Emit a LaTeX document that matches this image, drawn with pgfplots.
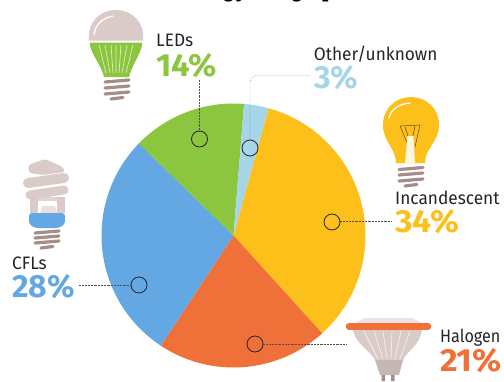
\documentclass[border=0pt]{standalone}
\usepackage{fontspec}
\usepackage{pgfplots}
\pgfplotsset{compat=1.18}
\setmainfont{Fira Sans}
\newfontfamily\titlefont{Liberation Sans}
\newfontfamily\namefont{Fira Sans}
\newfontfamily\pctfont{Fira Sans}
\definecolor{cInc}{HTML}{FDC01A}
\definecolor{cHal}{HTML}{F0703A}
\definecolor{cCfl}{HTML}{63A8E2}
\definecolor{cLed}{HTML}{8CC63F}
\definecolor{cOth}{HTML}{A6D5E8}
\definecolor{cInk}{HTML}{23232B}
\definecolor{cShell}{HTML}{DACBC8}
\definecolor{cScrew}{HTML}{A58E8A}
% One pie slice: colour, cumulative share at its start, its own share (in percent)
\newcommand{\slice}[3]{%
  \addplot[fill=#1,draw=none,domain={15.4+3.6*#2}:{15.4+3.6*(#2+#3)},samples=60]
    ({233.5+132*sin(x)},{235.5-132*cos(x)}) -- (axis cs:233.5,235.5) -- cycle;}
% Category name and percentage, set on their baselines
\newcommand{\nameat}[4][0.96]{\node[anchor=base west,inner sep=0pt,text=cInk] at (#2,#3)
  {\scalebox{#1}[1]{\fontsize{18}{18}\namefont #4}};}
\newcommand{\pctat}[5][1]{\node[anchor=base west,inner sep=0pt,text=#4] at (#2,#3)
  {\scalebox{#1}[1]{\fontsize{32}{32}\pctfont\bfseries #5}};}
% Screw thread of a lamp: three tilted bars and a short one below them
\newcommand{\screw}[5]{%
  \draw[cScrew,line width=3.2pt,line cap=round] (#1,#3+1) -- (#2,#3-1) (#1,#4+1) -- (#2,#4-1) (#1,#5+1) -- (#2,#5-1);
  \draw[cScrew,line width=3.2pt,line cap=round] ({#1+6},#5+6) -- ({#2-6},#5+4.5);}
\begin{document}
\begin{tikzpicture}
\useasboundingbox (0,0) rectangle (504pt,381pt);
\begin{axis}[
  at={(0,0)},anchor=south west,
  scale only axis,width=504pt,height=381pt,
  xmin=0,xmax=504,ymin=0,ymax=381,y dir=reverse,
  hide axis,clip=false]

% Slices, clockwise, starting with incandescent
\slice{cInc}{0}{34}
\slice{cHal}{34}{21}
\slice{cCfl}{55}{28}
\slice{cLed}{83}{14}
\slice{cOth}{97}{3}

% Leader lines
\addplot[cInk!80,line width=0.45pt,densely dotted] coordinates {(199.5,80) (199.5,131)};
\addplot[cInk!80,line width=0.45pt,densely dotted,rounded corners=7pt] coordinates {(250,140) (250,75.5) (310,75.5)};
\addplot[cInk!80,line width=0.45pt,densely dotted] coordinates {(340,221.5) (392,221.5)};
\addplot[cInk!80,line width=0.45pt,densely dotted] coordinates {(263,344) (346,344)};
\addplot[cInk!80,line width=0.45pt,densely dotted] coordinates {(79,285) (131,285)};
% Rings at the inner end of each leader
\addplot[only marks,mark=o,mark size=8pt,mark options={draw=cInk,line width=0.8pt,fill=none}]
  coordinates {(199.5,139) (250,148) (332,222) (255,344) (139,285)};

\begin{scope}[shift={(axis cs:0,0)},x=1pt,y=-1pt]
% Heading line, mostly beyond the top edge
\node[anchor=base west,inner sep=0pt,text=black] at (176.6,-2.5)
  {\fontsize{21.5}{21.5}\titlefont\bfseries energy usage [};

% LED lamp
\fill[cShell] (89,40.5) .. controls (87,22) and (100,10) .. (116,10) .. controls (132,10) and (145,22) .. (143,40.5) -- cycle;
\draw[white,line width=1.2pt,line cap=round] (94,35) .. controls (95,25) and (102,18) .. (113,16);
\fill[cLed] (89.5,42.5) -- (142.5,42.5) .. controls (141,55) and (133,62) .. (129,77) -- (104,77) .. controls (100,62) and (91,55) .. (89.5,42.5) -- cycle;
\draw[white!70!cLed,line width=0.7pt] (99,45) -- (106,73) (105,45) -- (110,73) (111,45) -- (113,73) (116,45) -- (116,73)
  (121,45) -- (119,73) (127,45) -- (122,73) (133,45) -- (126,73);
\screw{105}{129}{81}{87}{93}

% Incandescent lamp
\fill[cInc] (396,163) .. controls (396,148) and (383,142) .. (383,125) .. controls (383,108) and (396,97) .. (411,97)
  .. controls (426,97) and (439,108) .. (439,125) .. controls (439,142) and (425,148) .. (425,163) -- cycle;
\draw[white,line width=1.3pt,line cap=round] (389,118) .. controls (391,109) and (399,104) .. (410,103);
\draw[cInk!75!cInc,line width=0.5pt] (400,126) -- (420,125) -- (415,147) (400,126) -- (409,147) (405,127) -- (408,136) (415,126) -- (413,136);
\fill[white!85!cInc] (407.5,136) -- (413.5,136) -- (415,163) -- (405,163) -- cycle;
\screw{399}{423}{168.5}{174}{180}

% Compact fluorescent lamp
\fill[cShell] (30,197) -- (38,197) -- (38,213) -- (30,213) -- cycle;
\fill[cShell] (57,197) -- (65,197) -- (65,213) -- (57,213) -- cycle;
\fill[cShell!80!white] (38,197) -- (57,197) -- (57,201) -- (38,201) -- cycle;
\fill[cShell!60!white] (42,206) -- (55,206) -- (57,213) -- (40,213) -- cycle;
\fill[cShell,rounded corners=3pt] (28,165) -- (45,159) -- (63,167) -- (65,172) -- (43,175) -- (29,173) -- cycle;
\draw[cShell,line width=10pt,line cap=round] (28,183) -- (64,178);
\draw[cShell,line width=9pt,line cap=round] (30,195) -- (64,190);
\fill[cCfl,rounded corners=3pt] (29,213) -- (65,213) -- (65,224) -- (59,228) -- (35,228) -- (29,224) -- cycle;
\screw{35}{59}{232}{237}{242}

% Halogen reflector lamp
\fill[cShell!55!white] (355,323) -- (365,318) -- (412,318) -- (422,323) -- cycle;
\fill[cShell] (353,330) -- (422,330) .. controls (420,345) and (408,350) .. (403,360) -- (375,360) .. controls (370,350) and (356,345) .. (353,330) -- cycle;
\draw[white!70!cShell,line width=0.7pt] (364,331) -- (378,359) (374,331) -- (383,359) (383,331) -- (387,359) (392,331) -- (391,359)
  (401,331) -- (395,359) (410,331) -- (400,359);
\fill[cShell!90!black] (375,360) -- (403,360) -- (399,375) -- (380,375) -- cycle;
\fill[cScrew] (381.5,375) rectangle (385,381) (391,375) rectangle (394.5,381);
\draw[cHal,line width=6.5pt,line cap=round] (349,326.5) -- (428,326.5);

% Names and percentages
\nameat{156}{46.7}{LEDs}
\pctat[1.03]{156}{76}{cLed}{14\%}
\nameat{313.7}{60}{Other/unknown}
\pctat{314}{88}{cOth}{3\%}
\nameat{395}{204}{Incandescent}
\pctat[1.05]{395}{232}{cInc}{34\%}
\nameat[0.9]{440}{342}{Halogen}
\pctat[1.06]{440}{371}{cHal}{21\%}
\nameat{12}{269}{CFLs}
\pctat{12}{297}{cCfl}{28\%}
\end{scope}
\end{axis}
\end{tikzpicture}
\end{document}
